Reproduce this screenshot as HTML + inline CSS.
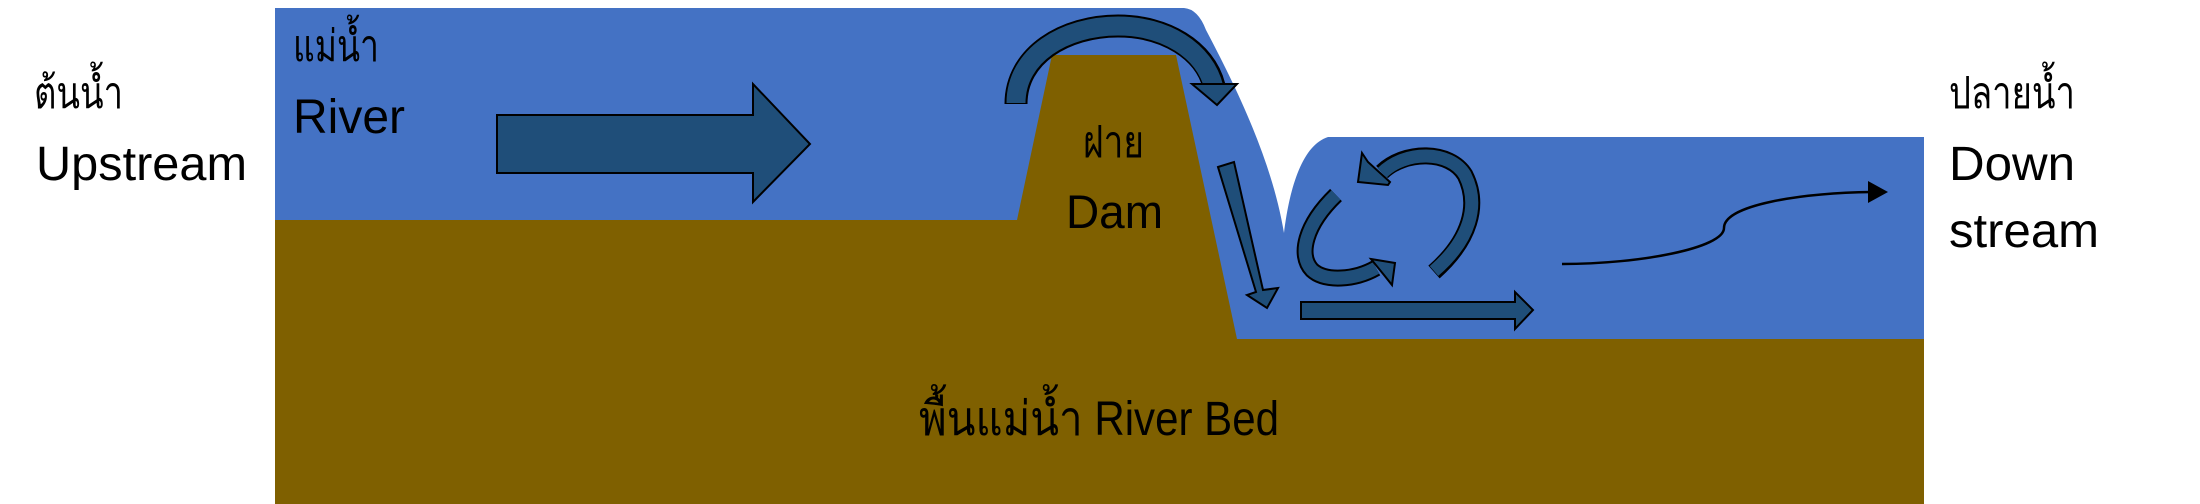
<!DOCTYPE html>
<html><head><meta charset="utf-8"><style>
html,body{margin:0;padding:0;background:#fff;}
svg{display:block;}
text{font-family:"Liberation Sans","Noto Sans CJK SC",sans-serif;fill:#000;}
</style></head><body>
<svg width="2200" height="504" viewBox="0 0 2200 504" xmlns="http://www.w3.org/2000/svg">
<path d="M275,8 L1184,8 Q1198,9 1206,30 C1235,85 1272,160 1284,233 C1290,185 1303,145 1328,137 L1924,137 L1924,339 L1237,339 L1017,220 L275,220 Z" fill="#4472c4"/>
<path d="M275,220 L1017,220 L1052,55 L1176,55 L1237,339 L1924,339 L1924,504 L275,504 Z" fill="#7f6000"/>
<polygon points="497,115 753,115 753,84 810,144 753,202 753,173 497,173" fill="#1f4e79" stroke="#000" stroke-width="2"/>
<path d="M1016,104 C1016,55 1065,26 1118,26 C1165,26 1205,50 1214,86" fill="none" stroke="#000" stroke-width="23"/>
<path d="M1016,103 C1016,55 1065,26 1118,26 C1165,26 1205,50 1214,88" fill="none" stroke="#1f4e79" stroke-width="19"/>
<polygon points="1192,84 1237,84 1217,105" fill="#1f4e79" stroke="#000" stroke-width="2"/>
<polygon points="1218,167 1234,162 1263,290 1278,288 1267,308 1247,295 1256,292" fill="#1f4e79" stroke="#000" stroke-width="2"/>
<polygon points="1301,302 1515,302 1515,292 1533,310 1515,329 1515,319 1301,319" fill="#1f4e79" stroke="#000" stroke-width="2"/>
<path d="M1434,272 C1470,240 1480,205 1465,175 C1450,150 1405,150 1382,172" fill="none" stroke="#000" stroke-width="17"/>
<path d="M1434,271 C1470,240 1480,205 1465,175 C1450,150 1405,150 1382,173" fill="none" stroke="#1f4e79" stroke-width="13"/>
<polygon points="1362,153 1368,162 1390,182 1388,185 1358,182" fill="#1f4e79" stroke="#000" stroke-width="2"/>
<path d="M1336,195 C1305,225 1298,255 1312,270 C1325,282 1355,280 1376,268" fill="none" stroke="#000" stroke-width="17"/>
<path d="M1336,195 C1305,225 1298,255 1312,270 C1325,282 1355,280 1376,268" fill="none" stroke="#1f4e79" stroke-width="13"/>
<polygon points="1371,259 1395,263 1392,285 1384,275" fill="#1f4e79" stroke="#000" stroke-width="2"/>
<path d="M1562,264 C1640,264 1724,248 1724,228 C1724,205 1800,193 1872,192" fill="none" stroke="#000" stroke-width="2.5"/>
<polygon points="1868,181 1888,192 1868,203" fill="#000"/>
<text x="34" y="108" font-size="44" textLength="89" lengthAdjust="spacingAndGlyphs">ต้นน้ำ</text>
<text x="36" y="180" font-size="48" textLength="211" lengthAdjust="spacingAndGlyphs">Upstream</text>
<text x="293" y="61" font-size="44" textLength="86" lengthAdjust="spacingAndGlyphs">แม่น้ำ</text>
<text x="293" y="133" font-size="48" textLength="112" lengthAdjust="spacingAndGlyphs">River</text>
<text x="1083" y="157" font-size="44" textLength="61" lengthAdjust="spacingAndGlyphs">ฝาย</text>
<text x="1066" y="228" font-size="47" textLength="97" lengthAdjust="spacingAndGlyphs">Dam</text>
<text x="919" y="435" font-size="48" textLength="360" lengthAdjust="spacingAndGlyphs">พื้นแม่น้ำ River Bed</text>
<text x="1949" y="108" font-size="44" textLength="126" lengthAdjust="spacingAndGlyphs">ปลายน้ำ</text>
<text x="1949" y="180" font-size="48" textLength="126" lengthAdjust="spacingAndGlyphs">Down</text>
<text x="1949" y="247" font-size="48" textLength="150" lengthAdjust="spacingAndGlyphs">stream</text>
</svg>
</body></html>
